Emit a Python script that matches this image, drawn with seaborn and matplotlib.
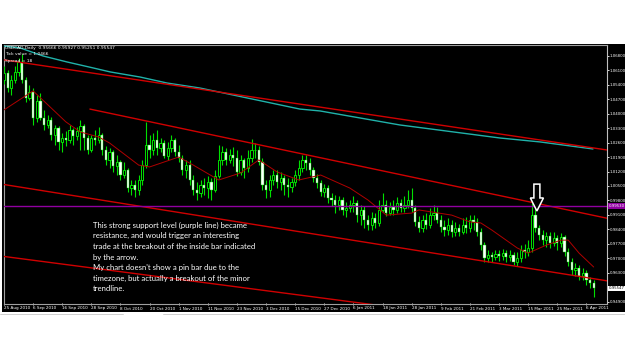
import numpy as np
import pandas as pd
import matplotlib
matplotlib.use("Agg")
import matplotlib.pyplot as plt
import matplotlib.transforms as mtransforms
from matplotlib.patches import Rectangle, FancyArrow
from matplotlib.lines import Line2D
import seaborn as sns

# ---------------- data (prices in 1e-4 units) ----------------
opens = [10563, 10597, 10524, 10563, 10602, 10650, 10563, 10476, 10505, 10379,
         10461, 10379, 10345, 10369, 10297, 10330, 10263, 10282, 10272, 10321,
         10292, 10316, 10340, 10282, 10224, 10282, 10272, 10297, 10224, 10176,
         10214, 10147, 10166, 10103, 10127, 10040, 10055, 10030, 10079, 10151,
         10248, 10224, 10272, 10234, 10258, 10195, 10234, 10272, 10214, 10185,
         10127, 10151, 10079, 10030, 10016, 10055, 10040, 10069, 10030, 10098,
         10176, 10214, 10176, 10200, 10185, 10118, 10176, 10137, 10185, 10224,
         10224, 10166, 10055, 10030, 10079, 10103, 10069, 10089, 10055, 10045,
         10069, 10103, 10137, 10176, 10161, 10127, 10089, 10064, 10021, 10040,
         9992, 9982, 9958, 9982, 9934, 9943, 9958, 9968, 9909, 9934,
         9885, 9861, 9895, 9871, 9934, 9958, 9919, 9948, 9934, 9968,
         9943, 9958, 9982, 9943, 9876, 9846, 9885, 9861, 9909, 9919,
         9885, 9851, 9837, 9861, 9827, 9846, 9827, 9861, 9846, 9885,
         9876, 9827, 9764, 9701, 9716, 9706, 9721, 9711, 9725, 9706,
         9716, 9682, 9701, 9740, 9730, 9750, 9909, 9846, 9813, 9788,
         9808, 9774, 9798, 9774, 9803, 9730, 9682, 9643, 9653, 9614,
         9629, 9595, 9580]
highs = [10631, 10611, 10587, 10631, 10669, 10689, 10577, 10539, 10524, 10490,
         10500, 10418, 10393, 10384, 10345, 10340, 10306, 10316, 10345, 10330,
         10335, 10369, 10350, 10297, 10297, 10321, 10335, 10306, 10243, 10234,
         10224, 10200, 10176, 10166, 10137, 10079, 10079, 10103, 10176, 10360,
         10297, 10306, 10321, 10282, 10272, 10263, 10297, 10282, 10248, 10200,
         10176, 10176, 10103, 10069, 10079, 10089, 10098, 10089, 10127, 10248,
         10243, 10234, 10229, 10239, 10224, 10200, 10185, 10224, 10277, 10258,
         10243, 10185, 10079, 10103, 10127, 10127, 10118, 10103, 10089, 10089,
         10127, 10176, 10200, 10200, 10185, 10142, 10108, 10079, 10059, 10055,
         10016, 10006, 10001, 9997, 9972, 9982, 10001, 9982, 9958, 9953,
         9909, 9924, 9919, 9982, 10016, 9982, 9972, 9982, 9997, 9987,
         10001, 10030, 10040, 9958, 9905, 9909, 9919, 9943, 9958, 9948,
         9909, 9885, 9895, 9885, 9876, 9866, 9895, 9900, 9909, 9909,
         9895, 9846, 9779, 9740, 9730, 9740, 9740, 9745, 9740, 9740,
         9730, 9730, 9764, 9769, 9788, 9968, 9938, 9861, 9837, 9827,
         9827, 9827, 9813, 9822, 9813, 9750, 9701, 9677, 9667, 9653,
         9643, 9609, 9595]
lows = [10543, 10505, 10490, 10548, 10582, 10548, 10456, 10466, 10345, 10360,
        10369, 10321, 10330, 10272, 10248, 10224, 10214, 10243, 10258, 10248,
        10272, 10224, 10224, 10205, 10214, 10248, 10258, 10200, 10151, 10137,
        10118, 10103, 10079, 10089, 10021, 10006, 9997, 10006, 10055, 10137,
        10185, 10200, 10200, 10214, 10185, 10176, 10214, 10195, 10166, 10103,
        10089, 10055, 10006, 9982, 9997, 10006, 9992, 9982, 10021, 10089,
        10151, 10151, 10161, 10147, 10098, 10103, 10089, 10118, 10166, 10185,
        10151, 10030, 9992, 9997, 10055, 10040, 10030, 10006, 9997, 10021,
        10050, 10079, 10118, 10127, 10103, 10069, 10040, 10001, 9997, 9968,
        9953, 9919, 9934, 9909, 9900, 9924, 9924, 9876, 9861, 9846,
        9837, 9837, 9846, 9856, 9924, 9905, 9909, 9909, 9919, 9924,
        9924, 9943, 9924, 9856, 9827, 9827, 9842, 9846, 9885, 9871,
        9827, 9808, 9813, 9803, 9808, 9808, 9817, 9822, 9827, 9837,
        9808, 9740, 9682, 9682, 9682, 9692, 9687, 9692, 9682, 9687,
        9667, 9663, 9682, 9701, 9711, 9730, 9827, 9788, 9764, 9755,
        9750, 9759, 9740, 9755, 9711, 9663, 9619, 9614, 9595, 9595,
        9571, 9556, 9513]
closes = [10597, 10524, 10563, 10602, 10650, 10563, 10476, 10505, 10379, 10461,
          10379, 10345, 10369, 10297, 10330, 10263, 10282, 10272, 10321, 10292,
          10316, 10340, 10282, 10224, 10282, 10272, 10297, 10224, 10176, 10214,
          10147, 10166, 10103, 10127, 10040, 10055, 10030, 10079, 10151, 10248,
          10224, 10272, 10234, 10258, 10195, 10234, 10272, 10214, 10185, 10127,
          10151, 10079, 10030, 10016, 10055, 10040, 10069, 10030, 10098, 10176,
          10214, 10176, 10200, 10185, 10118, 10176, 10137, 10185, 10224, 10224,
          10166, 10055, 10030, 10079, 10103, 10069, 10089, 10055, 10045, 10069,
          10103, 10137, 10176, 10161, 10127, 10089, 10064, 10021, 10040, 9992,
          9982, 9958, 9982, 9934, 9943, 9958, 9968, 9909, 9934, 9885,
          9861, 9895, 9871, 9934, 9958, 9919, 9948, 9934, 9968, 9943,
          9958, 9982, 9943, 9876, 9846, 9885, 9861, 9909, 9919, 9885,
          9851, 9837, 9861, 9827, 9846, 9827, 9861, 9846, 9885, 9876,
          9827, 9764, 9701, 9716, 9706, 9721, 9711, 9725, 9706, 9716,
          9682, 9701, 9740, 9730, 9750, 9909, 9846, 9813, 9788, 9808,
          9774, 9798, 9774, 9803, 9730, 9682, 9643, 9653, 9614, 9629,
          9595, 9580, 9555]

# moving average (red thin) read at selected bars
ma_bar = [0, 8, 17, 21, 26, 29, 37, 40, 48, 52, 59, 65, 70, 75, 81, 87, 95, 100,
          105, 112, 114, 123, 128, 131, 134, 141, 144, 149, 153, 155, 158, 162]
ma_val = [1.0418, 1.0510, 1.0360, 1.0311, 1.0287, 1.0258, 1.0151, 1.0142, 1.0190,
          1.0151, 1.0079, 1.0113, 1.0176, 1.0118, 1.0079, 1.0103, 1.0040, 0.9982,
          0.9909, 0.9919, 0.9934, 0.9909, 0.9876, 0.9871, 0.9837, 0.9750, 0.9725,
          0.9764, 0.9788, 0.9788, 0.9725, 0.9658]

# long moving average (sea green)
long_bar = [-0.3, 4.4, 10.7, 17.3, 24.5, 29.1, 37.4, 44.8, 53.8, 81.3, 86.8,
            108.8, 136.3, 147.3, 161.8]
long_val = [1.0727, 1.0718, 1.0679, 1.0650, 1.0621, 1.0602, 1.0577, 1.0548,
            1.0524, 1.0422, 1.0413, 1.0345, 1.0282, 1.0263, 1.0229]

# trend lines: (bar, price) anchor pairs
trend_top = [(0, 1.0660), (160, 1.0239)]
trend_mid = [(23.6, 1.0422), (160, 0.9915)]
trend_low = [(0, 1.0057), (160, 0.9607)]
trend_bottom = [(0, 0.9709), (100, 0.9479)]
support_level = 0.9953

x_tick_bars = [0, 8, 16, 24, 32, 40, 48, 56, 64, 72, 80, 88, 96, 104, 112, 120,
               128, 136, 144, 152, 160]
x_tick_labels = ["25 Aug 2010", "6 Sep 2010", "16 Sep 2010", "28 Sep 2010",
                 "8 Oct 2010", "20 Oct 2010", "1 Nov 2010", "11 Nov 2010",
                 "23 Nov 2010", "3 Dec 2010", "15 Dec 2010", "27 Dec 2010",
                 "6 Jan 2011", "18 Jan 2011", "28 Jan 2011", "9 Feb 2011",
                 "21 Feb 2011", "3 Mar 2011", "15 Mar 2011", "25 Mar 2011",
                 "6 Apr 2011"]
y_ticks = [1.068, 1.061, 1.054, 1.047, 1.040, 1.033, 1.026, 1.019, 1.012, 1.005,
           0.998, 0.991, 0.984, 0.977, 0.970, 0.963, 0.956, 0.949]
y_tick_labels = ["1.06800", "1.06100", "1.05400", "1.04700", "1.04000", "1.03300",
                 "1.02600", "1.01900", "1.01200", "1.00500", "0.99800", "0.99100",
                 "0.98400", "0.97700", "0.97000", "0.96300", "0.95600", "0.94900"]
last_price = 0.95547
info_lines = ["USDCAD,Daily  0.95666 0.95927 0.95251 0.95547",
              "Tick value = 1.0466",
              "Spread = 18"]
note = ("This strong support level (purple line) became\n"
        "resistance, and would trigger an interesting\n"
        "trade at the breakout of the inside bar indicated\n"
        "by the arrow.\n"
        "My chart doesn't show a pin bar due to the\n"
        "timezone, but actually a breakout of the minor\n"
        "trendline.")

# ---------------- styling ----------------
sns.set_theme(style="dark", rc={"axes.facecolor": "black",
                                "figure.facecolor": "white"})
plt.rcParams["font.family"] = ["DejaVu Sans"]

W, H = 625, 351
fig = plt.figure(figsize=(W / 100, H / 100), dpi=100)
fig.patches.append(Rectangle((2 / W, 1 - 312 / H), 623 / W, 268 / H,
                             transform=fig.transFigure, facecolor="black",
                             edgecolor="none", zorder=-5))
# tab-bar outline under the chart window
for x0, x1 in [(0, 123), (163, 625)]:
    fig.lines.append(Line2D([x0 / W, x1 / W], [1 - 313.5 / H, 1 - 313.5 / H],
                            transform=fig.transFigure, color="#c8c8c8", lw=0.6))
ax = fig.add_axes([3.5 / W, 47 / H, 603.5 / W, 259 / H])
ax.set_zorder(2)
ax.set_facecolor("black")

df = pd.DataFrame({"bar": np.arange(len(closes)),
                   "open": np.array(opens) / 1e4, "high": np.array(highs) / 1e4,
                   "low": np.array(lows) / 1e4, "close": np.array(closes) / 1e4})
green = "#00e000"
ax.vlines(df["bar"], df["low"], df["high"], color=green, lw=0.8, zorder=3)
up = df["close"] >= df["open"]
dn = ~up
ax.bar(df["bar"][up], (df["close"] - df["open"])[up], bottom=df["open"][up],
       width=0.62, color="black", edgecolor=green, lw=0.7, zorder=4)
ax.bar(df["bar"][dn], (df["open"] - df["close"])[dn], bottom=df["close"][dn],
       width=0.62, color="white", edgecolor=green, lw=0.3, zorder=4)

xlim = (-0.14, 165.66)

# long MA and MA
sns.lineplot(x=long_bar, y=long_val, ax=ax, color="#20b2aa", lw=1.0,
             estimator=None, sort=False, zorder=5)
sns.lineplot(x=ma_bar, y=ma_val, ax=ax, color="#b00000", lw=0.7,
             estimator=None, sort=False, zorder=6)

red = "#d00000"
for (p1, p2), ray_start in [(trend_top, None), (trend_mid, trend_mid[0][0]),
                            (trend_low, None), (trend_bottom, None)]:
    slope = (p2[1] - p1[1]) / (p2[0] - p1[0])
    xs = [xlim[0] if ray_start is None else ray_start, xlim[1]]
    ys = [p1[1] + slope * (x - p1[0]) for x in xs]
    ax.plot(xs, ys, color=red, lw=1.0, zorder=6)

ax.axhline(support_level, color="#9000a0", lw=1.0, zorder=6)

# arrow
ax.add_patch(FancyArrow(146.4, 1.0059, 0, -0.0130, width=1.65, head_width=3.6,
                        head_length=0.0063, length_includes_head=True,
                        facecolor="black", edgecolor="white", lw=1.1, zorder=9))

ax.set_xlim(*xlim)
ax.set_ylim(0.9479, 1.0732)

# axes / ticks
for s in ["left", "top", "bottom"]:
    ax.spines[s].set_visible(True)
    ax.spines[s].set_color("#a0a0a0")
    ax.spines[s].set_linewidth(0.8)
ax.spines["right"].set_visible(True)
ax.spines["right"].set_color("#c0c0c0")
ax.spines["right"].set_linewidth(0.8)
ax.set_xticks(x_tick_bars)
ax.set_xticklabels(x_tick_labels, fontsize=3.0, color="white", ha="left")
offset = mtransforms.ScaledTranslation(1.5 / 100, 0, fig.dpi_scale_trans)
for lab in ax.get_xticklabels():
    lab.set_transform(lab.get_transform() + offset)
ax.tick_params(axis="x", length=2, width=0.6, color="white", pad=0.8,
               direction="inout", bottom=True)
ax.yaxis.tick_right()
ax.set_yticks(y_ticks)
ax.set_yticklabels(y_tick_labels, fontsize=2.8, color="white")
ax.tick_params(axis="y", length=1.5, width=0.6, color="white", pad=0.6,
               right=True)
ax.grid(False)
ax.set_xlabel("")
ax.set_ylabel("")

trans = mtransforms.blended_transform_factory(ax.transAxes, ax.transData)
ax.text(1.003, last_price, f"{last_price:.5f}", transform=trans, fontsize=2.8,
        color="black", va="center", ha="left", zorder=10, clip_on=False,
        bbox=dict(boxstyle="square,pad=0.2", fc="white", ec="none"))
ax.text(1.003, support_level, f"{support_level:.5f}", transform=trans,
        fontsize=2.8, color="white", va="center", ha="left", zorder=10,
        clip_on=False,
        bbox=dict(boxstyle="square,pad=0.2", fc="#9000a0", ec="none"))

for k, line in enumerate(info_lines):
    ax.text(5 / W, 1 - (48 + 6.3 * k) / H, line, fontsize=3.2, color="white",
            va="center", ha="left", zorder=10, transform=fig.transFigure)

ax.text(92.7 / W, 1 - 221.5 / H, note, fontsize=5.6, color="white",
        family=["Lato", "DejaVu Sans"], va="top", ha="left",
        linespacing=1.6, zorder=10, transform=fig.transFigure)

fig.savefig("out.png", dpi=100, facecolor="white")
